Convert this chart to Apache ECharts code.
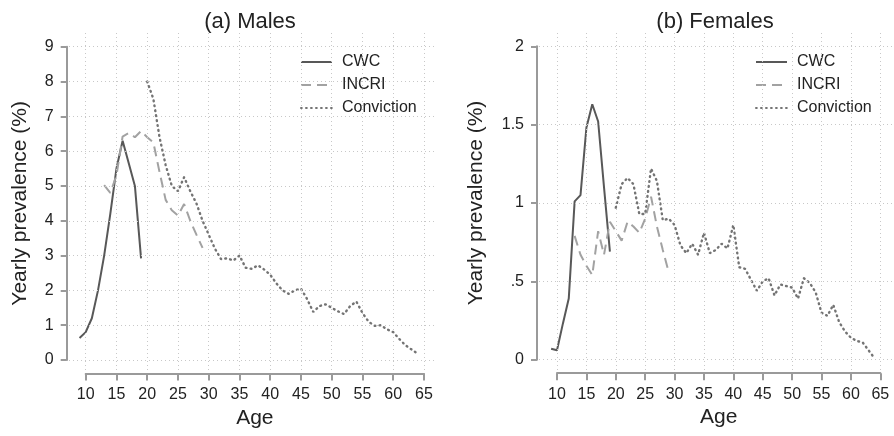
<!DOCTYPE html>
<html>
<head>
<meta charset="utf-8">
<script src="https://cdn.jsdelivr.net/npm/echarts@6/dist/echarts.min.js"></script>
<style>html,body{margin:0;padding:0;background:#fff}#c{width:894px;height:436px}</style>
</head>
<body>
<div id="c"></div>
<script>
// ---- data ----
const panelTitles = ['(a) Males', '(b) Females'];
const seriesNames = ['CWC', 'INCRI', 'Conviction'];
const xTicks = [10, 15, 20, 25, 30, 35, 40, 45, 50, 55, 60, 65];
const maleYTicks = [0, 1, 2, 3, 4, 5, 6, 7, 8, 9];
const femaleYTicks = [0, 0.5, 1, 1.5, 2];

const cwcAges = [9, 10, 11, 12, 13, 14, 15, 16, 17, 18, 19];
const incriAges = [13, 14, 15, 16, 17, 18, 19, 20, 21, 22, 23, 24, 25, 26, 27, 28, 29];
const convAges = [20, 21, 22, 23, 24, 25, 26, 27, 28, 29, 30, 31, 32, 33, 34, 35, 36, 37, 38, 39, 40, 41, 42,
  43, 44, 45, 46, 47, 48, 49, 50, 51, 52, 53, 54, 55, 56, 57, 58, 59, 60, 61, 62, 63, 64];

const maleCwc = [0.63, 0.8, 1.2, 2.0, 3.0, 4.2, 5.5, 6.3, 5.65, 5.0, 2.92];
const maleIncri = [5.02, 4.8, 5.3, 6.42, 6.52, 6.4, 6.58, 6.4, 6.25, 5.4, 4.6, 4.3, 4.15, 4.48, 4.0, 3.6, 3.22];
const maleConv = [8.0, 7.5, 6.4, 5.6, 5.0, 4.85, 5.25, 4.85, 4.5, 4.0, 3.6, 3.2, 2.9, 2.92, 2.86, 3.0, 2.65, 2.62,
  2.72, 2.6, 2.45, 2.2, 2.0, 1.9, 2.0, 2.05, 1.75, 1.38, 1.55, 1.6, 1.5, 1.4, 1.32, 1.55, 1.68, 1.35, 1.1, 0.98,
  1.0, 0.88, 0.8, 0.6, 0.42, 0.3, 0.18];

const femaleCwc = [0.07, 0.06, 0.23, 0.39, 1.01, 1.05, 1.48, 1.63, 1.52, 1.1, 0.69];
const femaleIncri = [0.79, 0.67, 0.6, 0.54, 0.82, 0.67, 0.88, 0.82, 0.76, 0.88, 0.85, 0.81, 0.9, 1.04, 0.85, 0.7, 0.56];
const femaleConv = [0.97, 1.12, 1.16, 1.12, 0.93, 0.93, 1.22, 1.14, 0.89, 0.9, 0.86, 0.73, 0.68, 0.74, 0.67, 0.81,
  0.68, 0.7, 0.74, 0.71, 0.86, 0.59, 0.58, 0.51, 0.44, 0.5, 0.52, 0.41, 0.48, 0.47, 0.46, 0.39, 0.52, 0.49, 0.43,
  0.3, 0.28, 0.35, 0.24, 0.18, 0.14, 0.12, 0.11, 0.06, 0.01];

// ---- layout / style ----
const FONT = 'Liberation Sans';
const AXIS_COLOR = '#9a9a9a';
const TEXT_COLOR = '#222';
const styles = {
  CWC: { color: '#585858', width: 2, type: 'solid', cap: 'butt' },
  INCRI: { color: '#a2a2a2', width: 2, type: [10, 6], cap: 'butt' },
  Conviction: { color: '#747474', width: 2.4, type: [0.8, 4.2], cap: 'round' }
};
// main (axis) rects and background plot-region rects, in px
const panels = [
  { main: { x0: 85.7, x1: 424, y0: 46.7, y1: 360 }, bg: { x0: 69, x1: 437, y0: 30, y1: 370 },
    yMax: 9, yInterval: 1, yTicks: maleYTicks, data: [maleCwc, maleIncri, maleConv], yOffset: 19, yNameGap: 36,
    legendLeft: 295, titleLeft: 245 },
  { main: { x0: 557, x1: 880.3, y0: 46.3, y1: 359.7 }, bg: { x0: 539, x1: 893, y0: 31, y1: 370 },
    yMax: 2, yInterval: 0.5, yTicks: femaleYTicks, data: [femaleCwc, femaleIncri, femaleConv], yOffset: 20, yNameGap: 50,
    legendLeft: 750, titleLeft: 710 }
];
const agesList = [cwcAges, incriAges, convAges];

const grids = [], xAxes = [], yAxes = [], series = [], legends = [], titles = [];

panels.forEach((p, pi) => {
  const m = p.main, b = p.bg;
  const ppx = (m.x1 - m.x0) / (65 - 10);
  const ppy = (m.y1 - m.y0) / p.yMax;
  // background grid = plot region (grid lines + data)
  const bgIdx = grids.length;
  grids.push({ left: b.x0, top: b.y0, width: b.x1 - b.x0, height: b.y1 - b.y0, containLabel: false });
  xAxes.push({ type: 'value', gridIndex: bgIdx, min: 10 - (m.x0 - b.x0) / ppx, max: 65 + (b.x1 - m.x1) / ppx,
    show: false, splitLine: { show: false } });
  yAxes.push({ type: 'value', gridIndex: bgIdx, min: -(b.y1 - m.y1) / ppy, max: p.yMax + (m.y0 - b.y0) / ppy,
    show: false, splitLine: { show: false } });
  const gridLines = xTicks.map(v => ({ xAxis: v })).concat(p.yTicks.map(v => ({ yAxis: v })));
  series.push({
    type: 'line', xAxisIndex: bgIdx, yAxisIndex: bgIdx, data: [], silent: true, z: 1,
    markLine: { silent: true, symbol: 'none', label: { show: false }, animation: false,
      lineStyle: { color: '#c8c8c8', width: 1, type: [1, 3] }, data: gridLines }
  });
  seriesNames.forEach((name, si) => {
    const st = styles[name];
    series.push({
      name, type: 'line', xAxisIndex: bgIdx, yAxisIndex: bgIdx, z: 3,
      symbol: 'none', showSymbol: false, smooth: false, animation: false,
      lineStyle: { color: st.color, width: st.width, type: st.type, cap: st.cap },
      itemStyle: { color: st.color },
      data: agesList[si].map((a, i) => [a, p.data[si][i]])
    });
  });
  // main grid (visible axes)
  const mIdx = grids.length;
  grids.push({ left: m.x0, top: m.y0, width: m.x1 - m.x0, height: m.y1 - m.y0, containLabel: false });
  xAxes.push({
    type: 'value', gridIndex: mIdx, min: 10, max: 65, interval: 5, offset: 13.5,
    name: 'Age', nameLocation: 'middle', nameGap: 30,
    nameTextStyle: { fontFamily: FONT, fontSize: 21, color: TEXT_COLOR },
    axisLine: { show: true, onZero: false, lineStyle: { color: AXIS_COLOR, width: 2 } },
    axisTick: { show: true, length: 7, lineStyle: { color: AXIS_COLOR, width: 2 } },
    axisLabel: { fontFamily: FONT, fontSize: 16, color: TEXT_COLOR, margin: 13, showMinLabel: true, showMaxLabel: true },
    splitLine: { show: false }
  });
  yAxes.push({
    type: 'value', gridIndex: mIdx, min: 0, max: p.yMax, interval: p.yInterval, offset: p.yOffset,
    name: 'Yearly prevalence (%)', nameLocation: 'middle', nameGap: p.yNameGap,
    nameTextStyle: { fontFamily: FONT, fontSize: 21, color: TEXT_COLOR },
    axisLine: { show: true, onZero: false, lineStyle: { color: AXIS_COLOR, width: 2 } },
    axisTick: { show: true, length: 6, lineStyle: { color: AXIS_COLOR, width: 2 } },
    axisLabel: { fontFamily: FONT, fontSize: 16, color: TEXT_COLOR, margin: 13,
      formatter: v => (v === 0 ? '0' : String(v).replace(/^0\./, '.')) },
    splitLine: { show: false }
  });
  legends.push({
    orient: 'vertical', left: p.legendLeft, top: 49, itemWidth: 31, itemHeight: 16, itemGap: 7,
    data: seriesNames, selectedMode: false,
    itemStyle: { opacity: 0 },
    lineStyle: { inactiveWidth: 2 },
    textStyle: { fontFamily: FONT, fontSize: 16, color: TEXT_COLOR, padding: [0, 0, 0, 5] }
  });
  titles.push({
    text: panelTitles[pi], left: p.titleLeft, top: 6, textAlign: 'center',
    textStyle: { fontFamily: FONT, fontSize: 22, fontWeight: 'normal', color: TEXT_COLOR }
  });
});

const chart = echarts.init(document.getElementById('c'), null, { renderer: 'canvas' });
chart.setOption({
  backgroundColor: '#fff',
  animation: false,
  title: titles,
  legend: legends,
  grid: grids,
  xAxis: xAxes,
  yAxis: yAxes,
  series
});
</script>
</body>
</html>
